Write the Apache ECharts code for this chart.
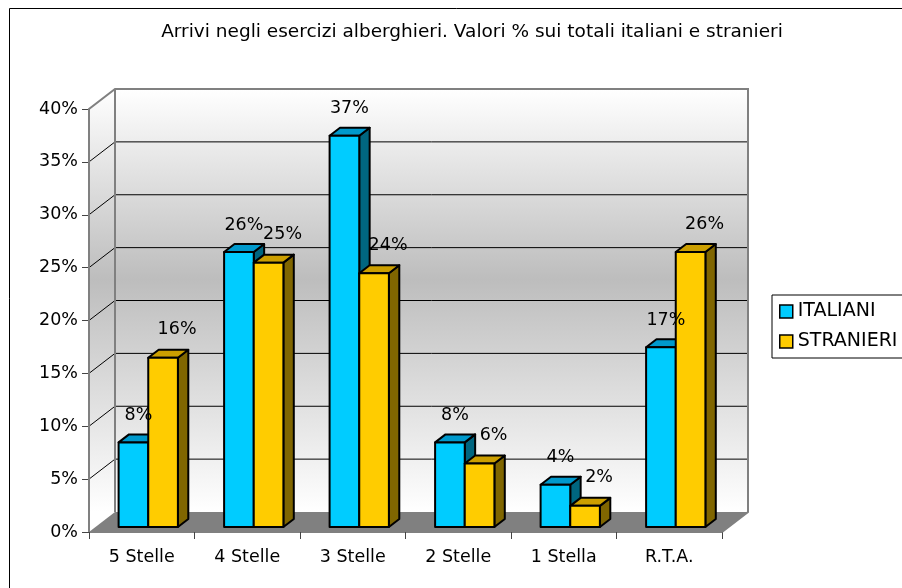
<!DOCTYPE html>
<html><head><meta charset="utf-8">
<script src="https://cdn.jsdelivr.net/npm/echarts@6/dist/echarts.min.js"></script>
<style>html,body{margin:0;padding:0;background:#fff}#c{width:902px;height:588px}</style>
</head><body><div id="c"></div>
<script>
// ---- data ----
const titleText = 'Arrivi negli esercizi alberghieri. Valori % sui totali italiani e stranieri';
const categories = ['5 Stelle', '4 Stelle', '3 Stelle', '2 Stelle', '1 Stella', 'R.T.A.'];
const italiani = [8, 26, 37, 8, 4, 17];
const stranieri = [16, 25, 24, 6, 2, 26];
const seriesNames = ['ITALIANI', 'STRANIERI'];
const yMin = 0, yMax = 40, yStep = 5;

// ---- style ----
const FONT = 'DejaVu Sans';
const FS = 17.5;
const DEPTH = [26, -20];      // full floor depth (px)
const BAR_FRONT = 0.25;       // depth fraction where bar front faces sit
const BAR_DEPTH = 0.4;        // bar depth as fraction of floor depth
const BAR_W = 0.281;          // bar width as fraction of category width
const palette = [
  {front: '#00CCFF', top: '#0099CC', side: '#006680'},
  {front: '#FFCC00', top: '#CC9F00', side: '#806600'}
];
const labelOff = [[5, 27], [14, 28]];

const wallGrad = (y1, y2) => ({
  type: 'linear', global: true, x: 0, y: y1, x2: 0, y2: y2,
  colorStops: [
    {offset: 0, color: '#ffffff'},
    {offset: 0.45, color: '#bdbdbd'},
    {offset: 1, color: '#ffffff'}
  ]
});

function renderBg(params, api) {
  const n = categories.length;
  const p = api.coord([0, yMin]);
  const cw = api.size([1, 0])[0];
  const xL = p[0] - cw / 2, xR = xL + n * cw;
  const y0 = p[1], yT = api.coord([0, yMax])[1];
  const dx = DEPTH[0], dy = DEPTH[1];
  const g = wallGrad(yT + dy, y0 + dy);
  const ch = [];
  ch.push({type: 'rect', shape: {x: xL + dx, y: yT + dy, width: n * cw, height: y0 - yT}, style: {fill: g}});
  ch.push({type: 'polygon', shape: {points: [[xL, yT], [xL + dx, yT + dy], [xL + dx, y0 + dy], [xL, y0]]}, style: {fill: g}});
  ch.push({type: 'polygon', shape: {points: [[xL, y0], [xL + dx, y0 + dy], [xR + dx, y0 + dy], [xR, y0]]}, style: {fill: '#808080'}});
  for (let v = yMin + yStep; v < yMax; v += yStep) {
    const y = api.coord([0, v])[1];
    ch.push({type: 'polyline', shape: {points: [[xL, y], [xL + dx, y + dy], [xR + dx, y + dy]]}, style: {stroke: '#000', lineWidth: 1, fill: null}});
  }
  ch.push({type: 'line', shape: {x1: xL + dx, y1: yT + dy, x2: xL + dx, y2: y0 + dy}, style: {stroke: '#808080', lineWidth: 2}});
  ch.push({type: 'polyline', shape: {points: [[xL, y0], [xL, yT], [xL + dx, yT + dy], [xR + dx, yT + dy], [xR + dx, y0 + dy], [xR, y0]]}, style: {stroke: '#808080', lineWidth: 2, fill: null}});
  return {type: 'group', children: ch};
}

function barGeom(si, api) {
  const ci = api.value(0), v = api.value(1);
  const base = api.coord([ci, 0]);
  const tp = api.coord([ci, v]);
  const cw = api.size([1, 0])[0];
  const w = cw * BAR_W;
  const sx = DEPTH[0] * BAR_FRONT, sy = DEPTH[1] * BAR_FRONT;
  const x0 = base[0] + (si === 0 ? -w : 0) + sx;
  return {v: v, x0: x0, x1: x0 + w, yb: base[1] + sy, yt: tp[1] + sy};
}

function makeBar(si) {
  return function (params, api) {
    const b = barGeom(si, api);
    const ddx = DEPTH[0] * BAR_DEPTH, ddy = DEPTH[1] * BAR_DEPTH;
    const c = palette[si];
    const st = (f) => ({fill: f, stroke: '#000', lineWidth: 2, lineJoin: 'round'});
    return {type: 'group', children: [
      {type: 'polygon', shape: {points: [[b.x1, b.yt], [b.x1 + ddx, b.yt + ddy], [b.x1 + ddx, b.yb + ddy], [b.x1, b.yb]]}, style: st(c.side)},
      {type: 'polygon', shape: {points: [[b.x0, b.yt], [b.x1, b.yt], [b.x1 + ddx, b.yt + ddy], [b.x0 + ddx, b.yt + ddy]]}, style: st(c.top)},
      {type: 'rect', shape: {x: b.x0, y: b.yt, width: b.x1 - b.x0, height: b.yb - b.yt}, style: st(c.front)}
    ]};
  };
}

function makeLabel(si) {
  return function (params, api) {
    const b = barGeom(si, api);
    return {type: 'text', style: {text: b.v + '%', x: (b.x0 + b.x1) / 2 + labelOff[si][0], y: b.yt - labelOff[si][1],
      align: 'center', verticalAlign: 'middle', fontFamily: FONT, fontSize: FS, fill: '#000'}};
  };
}

const chart = echarts.init(document.getElementById('c'), null, {renderer: 'canvas'});
chart.setOption({
  backgroundColor: '#fff',
  animation: false,
  title: {text: titleText, left: 472, top: 23, textAlign: 'center', padding: 0,
    textStyle: {fontFamily: FONT, fontSize: 18.5, fontWeight: 'normal', color: '#000'}},
  legend: {
    data: seriesNames, orient: 'vertical', left: 772, top: 295,
    backgroundColor: '#fff', borderColor: '#000', borderWidth: 1, borderRadius: 0,
    padding: [6, 12, 6, 7], itemGap: 9, itemWidth: 13, itemHeight: 13, icon: 'rect',
    itemStyle: {borderColor: '#000', borderWidth: 1.5},
    textStyle: {fontFamily: FONT, fontSize: 19, color: '#000', lineHeight: 21}
  },
  graphic: [{type: 'rect', silent: true, shape: {x: 9.5, y: 8.5, width: 1000, height: 1000}, style: {fill: null, stroke: '#000', lineWidth: 1}}],
  grid: {left: 89, right: 180, top: 109, bottom: 56},
  xAxis: {
    type: 'category', data: categories,
    axisLine: {show: true, lineStyle: {color: '#808080', width: 1}},
    axisTick: {show: true, length: 7, lineStyle: {color: '#444'}},
    axisLabel: {margin: 16, fontFamily: FONT, fontSize: FS, color: '#000'},
    splitLine: {show: false}
  },
  yAxis: {
    type: 'value', min: yMin, max: yMax, interval: yStep,
    axisLine: {show: false},
    axisTick: {show: true, length: 7, lineStyle: {color: '#444'}},
    axisLabel: {margin: 11, formatter: '{value}%', fontFamily: FONT, fontSize: FS, color: '#000'},
    splitLine: {show: false}
  },
  series: [
    {type: 'custom', name: 'bg', z: 1, silent: true, renderItem: renderBg, data: [[0, 0]], encode: {x: 0, y: 1}},
    {type: 'custom', name: seriesNames[0], z: 2, renderItem: makeBar(0), itemStyle: {color: palette[0].front},
      data: italiani.map((v, i) => [i, v]), encode: {x: 0, y: 1}},
    {type: 'custom', name: seriesNames[1], z: 3, renderItem: makeBar(1), itemStyle: {color: palette[1].front},
      data: stranieri.map((v, i) => [i, v]), encode: {x: 0, y: 1}},
    {type: 'custom', name: 'lblI', z: 4, silent: true, renderItem: makeLabel(0),
      data: italiani.map((v, i) => [i, v]), encode: {x: 0, y: 1}},
    {type: 'custom', name: 'lblS', z: 4, silent: true, renderItem: makeLabel(1),
      data: stranieri.map((v, i) => [i, v]), encode: {x: 0, y: 1}}
  ]
});
</script></body></html>
